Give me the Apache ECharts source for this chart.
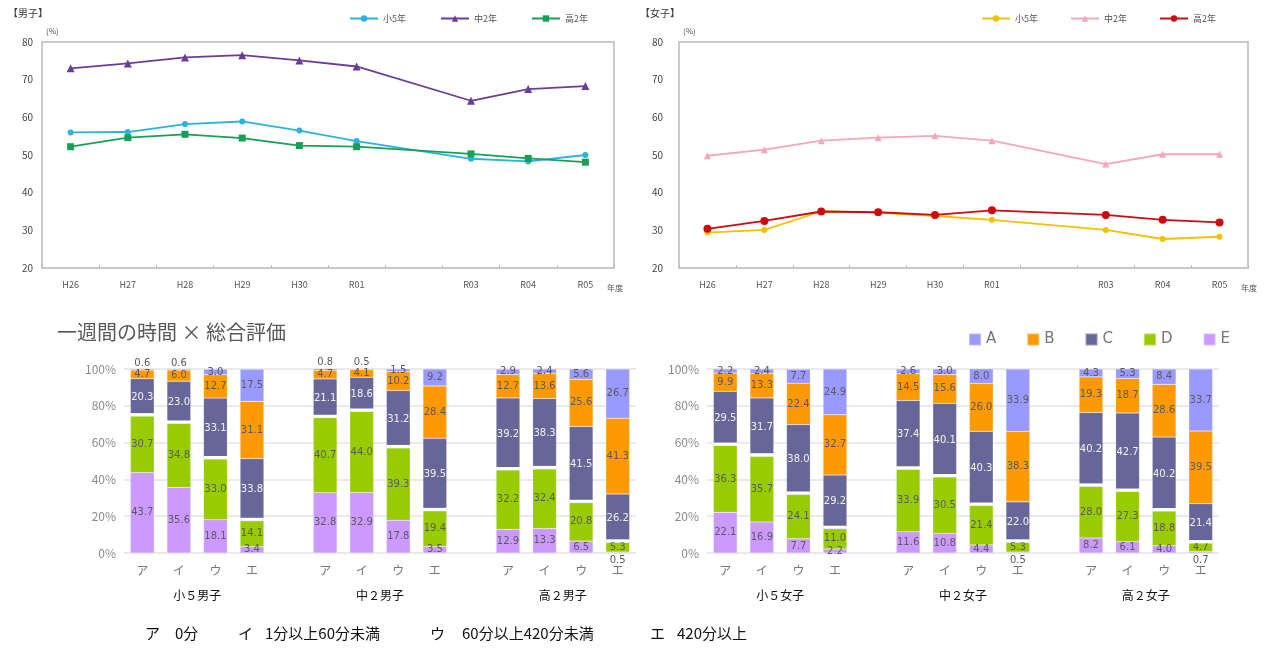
<!DOCTYPE html>
<html><head><meta charset="utf-8">
<script src="https://cdn.jsdelivr.net/npm/echarts@6/dist/echarts.min.js"></script>
<style>html,body{margin:0;padding:0;background:#fff}#c{width:1271px;height:648px}</style>
</head><body><div id="c"></div><script>
// ---------- line charts (年度別) ----------
const years = ['H26','H27','H28','H29','H30','R01','R02','R03','R04','R05'];
const lineNames = ['小5年','中2年','高2年'];
const boyE5 = [56.0,56.1,58.2,58.9,56.5,53.7,null,49.0,48.3,50.0];
const boyJ2 = [73.0,74.3,75.9,76.5,75.1,73.5,null,64.4,67.5,68.3];
const boyH2 = [52.2,54.6,55.5,54.5,52.5,52.2,null,50.3,49.1,48.1];
const girlE5 = [29.4,30.1,35.0,34.7,33.8,32.8,null,30.1,27.7,28.3];
const girlJ2 = [49.8,51.4,53.8,54.6,55.1,53.8,null,47.6,50.2,50.2];
const girlH2 = [30.4,32.5,35.0,34.8,34.1,35.3,null,34.1,32.8,32.1];

// ---------- stacked bars ----------
const timeCats = ['ア','イ','ウ','エ'];
const boyGroups = ['小５男子','中２男子','高２男子'];
const girlGroups = ['小５女子','中２女子','高２女子'];
const gradeNames = ['A','B','C','D','E'];
const boyE = [43.7,35.6,18.1,3.4, 32.8,32.9,17.8,3.5, 12.9,13.3,6.5,0.5];
const boyD = [30.7,34.8,33.0,14.1, 40.7,44.0,39.3,19.4, 32.2,32.4,20.8,5.3];
const boyC = [20.3,23.0,33.1,33.8, 21.1,18.6,31.2,39.5, 39.2,38.3,41.5,26.2];
const boyB = [4.7,6.0,12.7,31.1, 4.7,4.1,10.2,28.4, 12.7,13.6,25.6,41.3];
const boyA = [0.6,0.6,3.0,17.5, 0.8,0.5,1.5,9.2, 2.9,2.4,5.6,26.7];
const girlE = [22.1,16.9,7.7,2.2, 11.6,10.8,4.4,0.5, 8.2,6.1,4.0,0.7];
const girlD = [36.3,35.7,24.1,11.0, 33.9,30.5,21.4,5.3, 28.0,27.3,18.8,4.7];
const girlC = [29.5,31.7,38.0,29.2, 37.4,40.1,40.3,22.0, 40.2,42.7,40.2,21.4];
const girlB = [9.9,13.3,22.4,32.7, 14.5,15.6,26.0,38.3, 19.3,18.7,28.6,39.5];
const girlA = [2.2,2.4,7.7,24.9, 2.6,3.0,8.0,33.9, 4.3,5.3,8.4,33.7];
const yTickLabels = ['0%','20%','40%','60%','80%','100%'];
const footerKeys = ['ア','イ','ウ','エ'];
const footerTexts = ['0分','1分以上60分未満','60分以上420分未満','420分以上'];

const FONT = '"Noto Sans CJK JP","Noto Sans",sans-serif';
const gradeColors = {A:'#9999ff',B:'#ff9900',C:'#666699',D:'#99cc00',E:'#cc99ff'};
const gradeLabelColors = {A:'#5a5a5a',B:'#5a5a5a',C:'#f2f2f2',D:'#5a5a5a',E:'#5a5a5a'};

function slots(arr){ const out=[]; for(let g=0;g<3;g++){ out.push(...arr.slice(g*4,g*4+4)); if(g<2) out.push(null);} return out; }
const barCats = []; for(let g=0;g<3;g++){ barCats.push(...timeCats); if(g<2) barCats.push(''); }

const chart = echarts.init(document.getElementById('c'), null, {renderer:'canvas'});

function lineGrid(left,width){ return {left:left,top:42,width:width,height:226,show:true,borderColor:'#c9c9c9',borderWidth:2,backgroundColor:'#fff'}; }
function lineX(gi){ return {type:'category',gridIndex:gi,data:years,boundaryGap:true,
  axisLine:{lineStyle:{color:'#c9c9c9',width:2}},
  axisTick:{show:true,inside:true,length:3,interval:0,lineStyle:{color:'#bbb'}},
  axisLabel:{formatter:v=>v==='R02'?'':v,fontSize:9,color:'#555',margin:12,fontFamily:FONT,interval:0}}; }
function lineY(gi,margin){ return {type:'value',gridIndex:gi,min:20,max:80,interval:10,
  axisLine:{show:true,lineStyle:{color:'#c9c9c9',width:2}},axisTick:{show:false},splitLine:{show:false},
  axisLabel:{fontSize:10,color:'#444',margin:margin,fontFamily:FONT}}; }
function lineSeries(prefix,name,data,gi,color,symbol,size){
  return {type:'line',name:prefix+name,xAxisIndex:gi,yAxisIndex:gi,data:data,connectNulls:true,
    symbol:symbol,symbolSize:size,lineStyle:{color:color,width:1.8},itemStyle:{color:color},z:3}; }

function barGrid(left){ return {left:left,top:369,width:512,height:184}; }
function barX(gi){ return {type:'category',gridIndex:gi,data:barCats,boundaryGap:true,
  axisLine:{show:false},axisTick:{show:false},
  axisLabel:{fontSize:12,color:'#777',margin:11,fontFamily:FONT,interval:0}}; }
function barY(gi,showLabels){ return {type:'value',gridIndex:gi,min:0,max:100,interval:20,
  axisLine:{show:false},axisTick:{show:false},
  splitLine:{lineStyle:{color:'#e3e3e3',width:1.5}},
  axisLabel:{show:showLabels,fontSize:12,color:'#8a8a8a',margin:8,fontFamily:FONT,
    formatter:v=>yTickLabels[v/20]}}; }
function barSeries(name,raw,gi,stack){
  const data = slots(raw).map(v=>{
    if(v==null) return null;
    const item={value:v};
    if(name==='A' && v<1) item.label={position:'top',distance:1};
    if(name==='E' && v<1) item.label={position:'bottom',distance:2};
    return item;
  });
  return {type:'bar',name:name,xAxisIndex:gi,yAxisIndex:gi,stack:stack,barWidth:'65%',data:data,
    itemStyle:{color:gradeColors[name],borderColor:'rgba(255,255,255,0.35)',borderWidth:0.5},
    label:{show:true,position:'inside',fontSize:10,color:gradeLabelColors[name],fontFamily:'"DejaVu Sans",sans-serif',
      formatter:p=>Number(p.value).toFixed(1)}};
}
function sepSeries(ref,gi,stack){
  return {type:'bar',name:'sep',xAxisIndex:gi,yAxisIndex:gi,stack:stack,barWidth:'72%',
    data:slots(ref).map(v=>v==null?null:0),barMinHeight:3,silent:true,z:5,
    itemStyle:{color:'#ffffff'},label:{show:false}};
}

const series = [
  lineSeries('M','小5年',boyE5,0,'#2bb2e0','circle',6),
  lineSeries('M','中2年',boyJ2,0,'#6a3d9a','triangle',8),
  lineSeries('M','高2年',boyH2,0,'#17a055','rect',7),
  lineSeries('F','小5年',girlE5,1,'#f5c000','circle',6),
  lineSeries('F','中2年',girlJ2,1,'#f4a7b9','triangle',7),
  lineSeries('F','高2年',girlH2,1,'#cc0a14','circle',8),
  barSeries('E',boyE,2,'m'), barSeries('D',boyD,2,'m'), sepSeries(boyD,2,'m'),
  barSeries('C',boyC,2,'m'), barSeries('B',boyB,2,'m'), barSeries('A',boyA,2,'m'),
  barSeries('E',girlE,3,'f'), barSeries('D',girlD,3,'f'), sepSeries(girlD,3,'f'),
  barSeries('C',girlC,3,'f'), barSeries('B',girlB,3,'f'), barSeries('A',girlA,3,'f')
];

const option = {
  animation:false,
  backgroundColor:'#fff',
  textStyle:{fontFamily:FONT},
  grid:[lineGrid(42,572), lineGrid(679,569), barGrid(124), barGrid(707)],
  xAxis:[lineX(0), lineX(1), barX(2), barX(3)],
  yAxis:[lineY(0,9), lineY(1,16), barY(2,true), barY(3,true)],
  legend:[
    {data:lineNames.map(n=>'M'+n),formatter:n=>n.slice(1),left:344,top:9,itemWidth:28,itemHeight:8,itemGap:34,
     textStyle:{fontSize:9,color:'#555',fontFamily:FONT}},
    {data:lineNames.map(n=>'F'+n),formatter:n=>n.slice(1),left:976,top:9,itemWidth:28,itemHeight:8,itemGap:32,
     textStyle:{fontSize:9,color:'#555',fontFamily:FONT}},
    {data:gradeNames,left:963,top:327,icon:'rect',itemWidth:12,itemHeight:12,itemGap:30,
     textStyle:{fontSize:15,color:'#777',fontFamily:'"DejaVu Sans",sans-serif'}}
  ],
  series:series
};
chart.setOption(option);

const graphics = [
  {type:'text',left:8,top:8,style:{text:'【男子】',fontSize:10,fill:'#333',fontFamily:FONT}},
  {type:'text',left:640,top:8,style:{text:'【女子】',fontSize:10,fill:'#333',fontFamily:FONT}},
  {type:'text',left:46,top:27,style:{text:'(%)',fontSize:8,fill:'#555',fontFamily:FONT}},
  {type:'text',left:683,top:27,style:{text:'(%)',fontSize:8,fill:'#555',fontFamily:FONT}},
  {type:'text',left:607,top:284,style:{text:'年度',fontSize:8,fill:'#555',fontFamily:FONT}},
  {type:'text',left:1241,top:284,style:{text:'年度',fontSize:8,fill:'#555',fontFamily:FONT}},
  {type:'text',left:57,top:322,style:{text:'一週間の時間 × 総合評価',fontSize:20,fill:'#595959',fontFamily:FONT}}
];
// footer legend of time categories
const footerKeyX = [145,238,430,650], footerTextX = [175,265,462,677];
footerKeys.forEach((k,i)=>{
  graphics.push({type:'text',left:footerKeyX[i],top:626,style:{text:k,fontSize:15,fill:'#111',fontFamily:FONT}});
  graphics.push({type:'text',left:footerTextX[i],top:626,style:{text:footerTexts[i],fontSize:15,fill:'#111',fontFamily:FONT}});
});
// group labels placed from the axis scale
[[boyGroups,2],[girlGroups,3]].forEach(([groups,ai])=>{
  groups.forEach((g,gi)=>{
    const p1 = chart.convertToPixel({xAxisIndex:ai}, gi*5+1);
    const p2 = chart.convertToPixel({xAxisIndex:ai}, gi*5+2);
    graphics.push({type:'text',x:(p1+p2)/2,y:595,style:{text:g,fontSize:12,fill:'#111',align:'center',verticalAlign:'middle',fontFamily:FONT}});
  });
});
chart.setOption({graphic:graphics});
</script></body></html>
